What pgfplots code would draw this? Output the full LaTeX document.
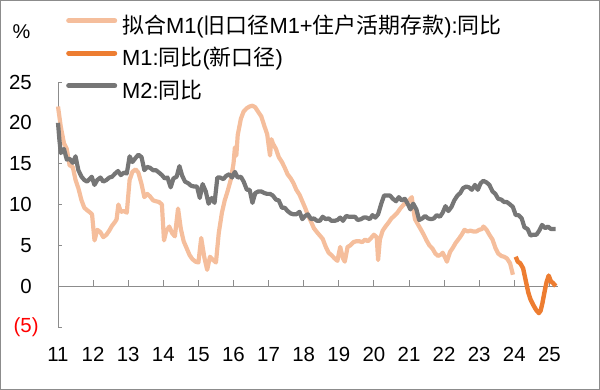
\documentclass[border=0pt]{standalone}
\usepackage{fontspec}
\setmainfont{Liberation Sans}
\newfontfamily\cjk{Noto Sans CJK SC}
\usepackage{pgfplots}
\pgfplotsset{compat=1.18}
\definecolor{peach}{HTML}{F5BE9C}
\definecolor{dorange}{HTML}{ED7D31}
\definecolor{mgray}{HTML}{767676}
\definecolor{axgray}{HTML}{8C8C8C}
\begin{document}
\begin{tikzpicture}
\useasboundingbox (0,0) rectangle (600bp,390bp);
\draw[axgray, line width=1bp] (0.5bp,0.5bp) rectangle (599.5bp,389.5bp);
\node[anchor=center, inner sep=0pt, font=\fontsize{20}{24}\selectfont] at (21.5bp,358bp) {\%};
\begin{axis}[
  at={(58bp,63bp)}, anchor=south west,
  scale only axis, width=500bp, height=245bp,
  xmin=2011, xmax=2025.245, ymin=-5, ymax=25,
  clip=false,
  axis y line=left, axis x line=middle,
  axis line style={draw=axgray, line width=0.9bp, -},
  hide obscured x ticks=false, hide obscured y ticks=false,
  xtick={2011,2012,2013,2014,2015,2016,2017,2018,2019,2020,2021,2022,2023,2024},
  xticklabels={11,12,13,14,15,16,17,18,19,20,21,22,23,24},
  extra x ticks={2025}, extra x tick labels={25},
  extra x tick style={major tick length=0pt},
  ytick={-5,0,5,10,15,20,25},
  yticklabels={\textcolor{red}{(5\rlap{)}},0,5,10,15,20,25},
  xtick align=inside, ytick align=inside,
  xtick style={draw=axgray, line width=0.9bp, /pgfplots/major tick length=6bp},
  ytick style={draw=axgray, line width=0.9bp, /pgfplots/major tick length=4bp},
  tick label style={font=\fontsize{20.5}{24}\selectfont},
  xticklabel style={anchor=center, yshift=-68bp},
  yticklabel style={anchor=east, inner sep=0pt, xshift=-26bp},
  minor tick num=0,
  legend style={at={(axis description cs:0,0)}, anchor=north west, xshift=8bp, yshift=310bp,
    draw=none, fill=none, inner sep=0pt, row sep=10.5bp, column sep=4bp,
    font=\fontsize{22}{26}\selectfont,
    nodes={inner sep=1bp, text height=15bp, text depth=5bp}},
  legend cell align=left,
  legend image code/.code={\draw[#1, line width=5bp, line cap=round] (2.5bp,7.5bp) -- (48.5bp,7.5bp);},
  every axis plot/.append style={line join=round},
]
\addplot[peach, line width=4.2bp] coordinates {
(2011.00,22.0)(2011.08,19.5)(2011.17,17.5)(2011.25,16.8)(2011.33,14.8)(2011.42,14.6)
(2011.50,13.0)(2011.58,12.0)(2011.67,10.5)(2011.75,9.6)(2011.83,9.3)(2011.92,9.0)
(2011.97,8.8)(2012.04,5.6)(2012.12,6.9)(2012.21,6.6)(2012.29,6.0)(2012.38,6.3)
(2012.46,6.8)(2012.54,7.4)(2012.63,7.9)(2012.67,8.2)(2012.72,10.0)(2012.79,9.1)
(2012.88,9.2)(2012.96,9.0)(2013.04,13.0)(2013.12,14.0)(2013.21,14.3)(2013.29,13.9)
(2013.38,12.5)(2013.46,10.9)(2013.54,11.3)(2013.62,11.0)(2013.71,10.5)(2013.79,10.4)
(2013.88,10.3)(2013.96,10.0)(2014.02,5.6)(2014.08,6.7)(2014.17,7.3)(2014.25,6.5)
(2014.33,6.1)(2014.42,9.5)(2014.50,7.0)(2014.58,5.5)(2014.67,4.6)(2014.75,3.8)
(2014.83,3.3)(2014.92,3.0)(2015.00,2.9)(2015.08,5.9)(2015.17,3.5)(2015.25,2.0)
(2015.33,3.6)(2015.42,3.2)(2015.50,2.9)(2015.58,6.5)(2015.67,9.0)(2015.75,10.5)
(2015.83,11.6)(2015.92,13.0)(2016.00,15.0)(2016.04,17.0)(2016.08,16.0)(2016.12,18.5)
(2016.21,20.5)(2016.29,21.4)(2016.38,21.8)(2016.46,22.0)(2016.54,22.1)(2016.62,21.9)
(2016.71,21.3)(2016.79,20.8)(2016.88,19.6)(2016.96,18.6)(2017.04,16.0)(2017.08,18.0)
(2017.12,17.5)(2017.21,16.8)(2017.29,15.8)(2017.38,15.2)(2017.46,14.5)(2017.54,13.7)
(2017.63,13.2)(2017.71,12.6)(2017.79,11.8)(2017.88,11.2)(2017.96,10.4)(2018.04,9.6)
(2018.12,8.7)(2018.21,7.9)(2018.29,7.1)(2018.38,6.6)(2018.46,6.2)(2018.54,5.8)
(2018.63,4.8)(2018.71,4.1)(2018.79,3.8)(2018.88,3.4)(2018.96,3.1)(2019.04,4.8)
(2019.12,3.4)(2019.17,3.0)(2019.25,4.8)(2019.33,5.0)(2019.42,5.4)(2019.50,5.5)
(2019.58,5.5)(2019.67,5.4)(2019.75,5.7)(2019.83,5.5)(2019.92,5.9)(2020.00,6.3)
(2020.08,6.0)(2020.12,3.2)(2020.17,5.7)(2020.25,6.8)(2020.33,7.3)(2020.42,7.8)
(2020.50,8.3)(2020.58,8.6)(2020.67,9.0)(2020.75,9.5)(2020.83,9.9)(2020.92,10.3)
(2021.00,10.5)(2021.08,10.9)(2021.12,9.5)(2021.17,8.2)(2021.25,7.6)(2021.33,7.0)
(2021.42,6.3)(2021.50,5.6)(2021.58,5.0)(2021.67,4.6)(2021.75,4.0)(2021.83,3.7)
(2021.92,3.9)(2021.96,4.1)(2022.04,3.4)(2022.08,3.0)(2022.17,4.2)(2022.25,4.7)
(2022.33,5.3)(2022.42,5.8)(2022.50,6.3)(2022.58,6.9)(2022.67,6.7)(2022.75,6.8)
(2022.83,6.7)(2022.92,6.7)(2023.00,6.9)(2023.08,7.0)(2023.12,7.3)(2023.21,6.9)
(2023.29,6.3)(2023.38,5.7)(2023.46,4.7)(2023.54,4.0)(2023.63,3.7)(2023.71,3.6)
(2023.79,3.4)(2023.88,2.8)(2023.96,1.4)
};
\addlegendentry{{\cjk 拟合}M1({\cjk 旧口径}M1+{\cjk 住户活期存款}):{\cjk 同比}}
\addplot[dorange, line width=4.4bp] coordinates {
(2024.04,3.6)(2024.10,3.0)(2024.17,2.8)(2024.25,2.2)(2024.33,0.6)(2024.40,-0.8)
(2024.46,-1.6)(2024.54,-2.3)(2024.62,-2.9)(2024.70,-3.3)(2024.75,-3.0)(2024.80,-2.1)
(2024.87,-0.5)(2024.92,0.5)(2024.98,1.3)(2025.04,0.6)(2025.10,0.4)(2025.18,0.0)
};
\addlegendentry{M1:{\cjk 同比}({\cjk 新口径})}
\addplot[mgray, line width=4.2bp] coordinates {
(2011.00,20.0)(2011.04,17.9)(2011.08,16.3)(2011.17,16.8)(2011.25,15.5)(2011.33,15.6)
(2011.42,15.1)(2011.50,15.9)(2011.58,14.2)(2011.67,13.4)(2011.75,13.0)(2011.83,12.8)
(2011.92,13.2)(2011.96,13.4)(2012.04,12.4)(2012.12,13.0)(2012.21,13.3)(2012.29,12.8)
(2012.38,13.0)(2012.46,13.3)(2012.54,13.4)(2012.63,13.8)(2012.71,14.1)(2012.79,13.6)
(2012.88,13.9)(2012.96,13.8)(2013.04,15.9)(2013.12,15.2)(2013.21,15.7)(2013.29,16.1)
(2013.38,15.8)(2013.46,14.2)(2013.54,14.6)(2013.62,14.5)(2013.71,14.2)(2013.79,14.2)
(2013.88,13.9)(2013.96,13.6)(2014.04,13.2)(2014.12,13.3)(2014.21,12.1)(2014.29,13.2)
(2014.38,13.4)(2014.46,14.7)(2014.54,13.5)(2014.62,12.8)(2014.71,12.6)(2014.79,12.3)
(2014.88,12.2)(2014.96,12.2)(2015.04,10.8)(2015.12,12.5)(2015.21,11.6)(2015.29,10.1)
(2015.38,10.8)(2015.46,10.2)(2015.54,13.3)(2015.62,13.3)(2015.71,13.1)(2015.79,13.5)
(2015.88,13.7)(2015.96,13.3)(2016.04,14.0)(2016.12,13.3)(2016.21,13.4)(2016.29,12.8)
(2016.38,11.8)(2016.46,11.8)(2016.54,10.2)(2016.62,11.4)(2016.71,11.6)(2016.79,11.6)
(2016.88,11.4)(2016.96,11.3)(2017.04,11.3)(2017.12,11.1)(2017.21,10.6)(2017.29,10.5)
(2017.38,9.6)(2017.46,9.6)(2017.54,9.2)(2017.63,8.9)(2017.71,8.8)(2017.79,8.8)
(2017.88,9.1)(2017.96,8.2)(2018.04,8.6)(2018.12,8.8)(2018.21,8.2)(2018.29,8.3)
(2018.38,8.0)(2018.46,8.0)(2018.54,8.5)(2018.63,8.2)(2018.71,8.3)(2018.79,8.0)
(2018.88,8.0)(2018.96,8.1)(2019.04,8.4)(2019.12,8.0)(2019.21,8.6)(2019.29,8.5)
(2019.38,8.5)(2019.46,8.5)(2019.54,8.1)(2019.63,8.2)(2019.71,8.4)(2019.79,8.4)
(2019.88,8.2)(2019.96,8.7)(2020.04,8.4)(2020.12,8.8)(2020.21,10.1)(2020.29,11.1)
(2020.38,11.1)(2020.46,11.1)(2020.54,10.7)(2020.63,10.4)(2020.71,10.9)(2020.79,10.5)
(2020.88,10.7)(2020.96,10.1)(2021.04,9.4)(2021.12,10.1)(2021.21,9.4)(2021.29,8.1)
(2021.38,8.3)(2021.46,8.6)(2021.54,8.3)(2021.63,8.2)(2021.71,8.3)(2021.79,8.7)
(2021.88,8.5)(2021.96,9.0)(2022.04,9.8)(2022.12,9.2)(2022.21,9.7)(2022.29,10.5)
(2022.38,11.1)(2022.46,11.4)(2022.54,12.0)(2022.63,12.2)(2022.71,12.1)(2022.79,11.8)
(2022.88,12.4)(2022.96,11.8)(2023.04,12.6)(2023.12,12.9)(2023.21,12.7)(2023.29,12.4)
(2023.38,11.6)(2023.46,11.3)(2023.54,10.7)(2023.63,10.6)(2023.71,10.3)(2023.79,10.3)
(2023.88,10.0)(2023.96,9.7)(2024.04,8.7)(2024.12,8.7)(2024.21,8.3)(2024.29,7.2)
(2024.38,7.0)(2024.46,6.2)(2024.54,6.3)(2024.63,6.3)(2024.71,6.8)(2024.79,7.5)
(2024.88,7.1)(2024.96,7.3)(2025.04,7.0)(2025.12,7.0)(2025.18,7.0)
};
\addlegendentry{M2:{\cjk 同比}}
\end{axis}
\end{tikzpicture}
\end{document}
